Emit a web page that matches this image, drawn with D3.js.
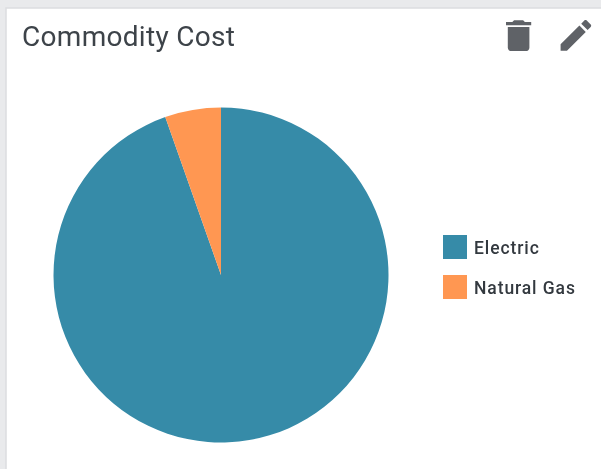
<!DOCTYPE html>
<html>
<head>
<meta charset="utf-8">
<script src="https://cdn.jsdelivr.net/npm/d3@7"></script>
<style>
  html, body { margin: 0; padding: 0; background: #fff; overflow: hidden; }
  svg { display: block; filter: blur(0.6px); }
  text { font-family: Roboto, sans-serif; }
</style>
</head>
<body>
<svg id="chart" width="601" height="469"></svg>
<script>
const categories = ["Electric", "Natural Gas"];
const costShare = [94.6, 5.4];
const colors = ["#368ba8", "#ff9752"];

const svg = d3.select("#chart");
const width = +svg.attr("width");
const height = +svg.attr("height");

/* card background and border */
svg.append("rect").attr("width", width).attr("height", height).attr("fill", "#e9eaec");
svg.append("rect")
  .attr("x", 6).attr("y", 8)
  .attr("width", width + 10).attr("height", height + 10)
  .attr("fill", "#fff").attr("stroke", "#dcdddf").attr("stroke-width", 1.5);

svg.append("text")
  .attr("x", 22).attr("y", 46)
  .attr("font-size", 28)
  .attr("letter-spacing", 0.3)
  .attr("fill", "#3d4349")
  .text("Commodity Cost");

/* toolbar icons */
const trashPath = "M6 19c0 1.1.9 2 2 2h8c1.1 0 2-.9 2-2V7H6v12zM19 4h-3.5l-1-1h-5l-1 1H5v2h14V4z";
const editPath = "M3 17.25V21h3.75L17.81 9.94l-3.75-3.75L3 17.25zM20.71 7.04c.39-.39.39-1.02 0-1.41l-2.34-2.34c-.39-.39-1.02-.39-1.41 0l-1.83 1.83 3.75 3.75 1.83-1.83z";
svg.append("path").attr("d", trashPath).attr("fill", "#5f6267")
  .attr("transform", "translate(497,15) scale(1.8,1.72)");
svg.append("path").attr("d", editPath).attr("fill", "#5f6267")
  .attr("transform", "translate(555.5,15) scale(1.7)");

/* pie */
const pie = d3.pie().sort(null)(costShare);
const arc = d3.arc().innerRadius(0).outerRadius(167.5);
const color = d3.scaleOrdinal().domain(categories).range(colors);

svg.append("g")
  .attr("transform", "translate(221,275)")
  .selectAll("path")
  .data(pie)
  .enter()
  .append("path")
  .attr("d", arc)
  .attr("fill", (d, i) => color(categories[i]));

/* legend */
const legendY = d3.scalePoint().domain(categories).range([247, 287]);
const legend = svg.append("g")
  .selectAll("g")
  .data(categories)
  .enter()
  .append("g")
  .attr("transform", (d) => `translate(443,${legendY(d)})`);
legend.append("rect")
  .attr("x", 0).attr("y", -12)
  .attr("width", 24).attr("height", 24)
  .attr("fill", (d) => color(d));
legend.append("text")
  .attr("x", 31).attr("y", 7)
  .attr("font-size", 17.5)
  .attr("font-weight", 500)
  .attr("letter-spacing", 0.9)
  .attr("fill", "#33393f")
  .text((d) => d);
</script>
</body>
</html>
